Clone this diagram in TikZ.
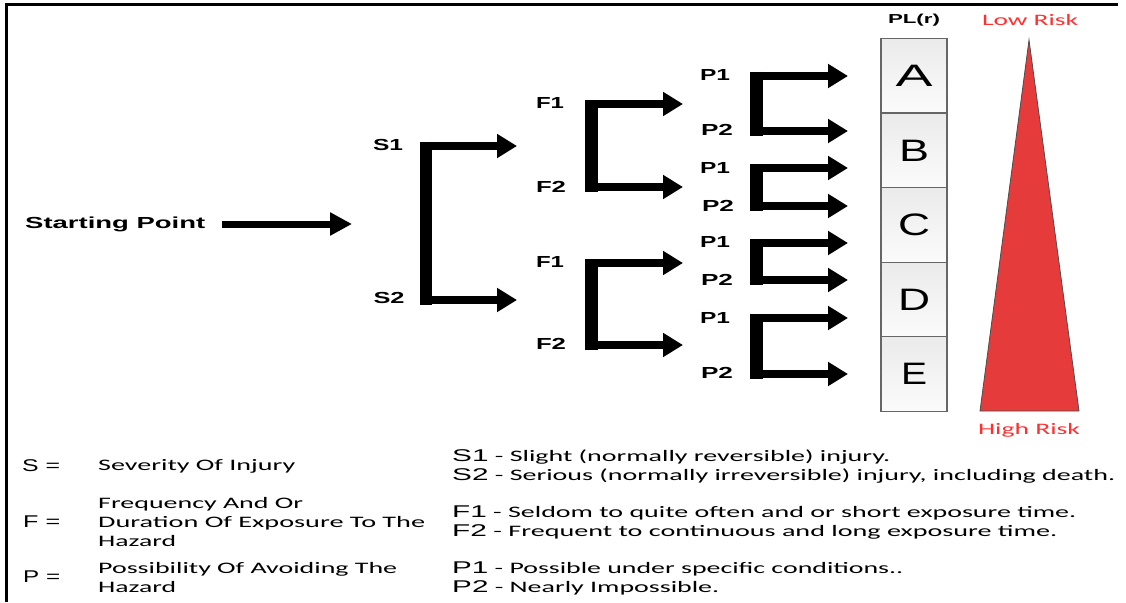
\documentclass[tikz,border=0pt]{standalone}
\usepackage{fontspec}
\setmainfont{Liberation Sans}
\newfontfamily\calfont{Carlito}
\usetikzlibrary{arrows.meta}
\newcommand\fitto[2]{\resizebox{#1pt}{\height}{#2}}
\definecolor{riskred}{RGB}{255,48,48}
\definecolor{trired}{RGB}{230,59,59}
\newcommand\brk[6]{%
  \coordinate (#1t) at (#2,#3); \coordinate (#1b) at (#2,#4);
  \coordinate (#1te) at (#5,#3); \coordinate (#1be) at (#5,#4);
  \draw[harr] (#1t) -- (#1te);
  \draw[harr] (#1b) -- (#1be);
  \draw[line width=#6pt] ([yshift=4.5pt]#1t) -- ([yshift=-4.5pt]#1b);
}
\begin{document}
\begin{tikzpicture}[x=1pt,y=-1pt,
  lbl/.style={font=\bfseries\fontsize{16}{16}\selectfont, inner sep=0pt},
  harr/.style={line width=8pt, -{Triangle[width=23pt,length=20pt]}},
  plbox/.style={draw=gray!80!black, line width=1.2pt, top color=gray!16, bottom color=gray!3,
     minimum width=66pt, minimum height=74.6pt, inner sep=0pt, font=\fontsize{31}{31}\selectfont},
  legl/.style={font=\fontsize{17}{17}\selectfont, inner sep=0pt, anchor=west},
  legt/.style={font=\calfont\fontsize{16}{16}\selectfont, inner sep=0pt, anchor=west},
  legr/.style={font=\calfont\fontsize{16}{16}\selectfont, inner sep=0pt, anchor=west},
  risk/.style={font=\calfont\fontsize{16}{16}\selectfont, text=riskred, inner sep=0pt}
]
\useasboundingbox (0,0) rectangle (1126,602);
\fill[white] (0,0) rectangle (1126,602);
\draw[line width=3pt] (6,602) -- (6,5) -- (1118,5);

% starting point
\node[lbl, anchor=west] (start) at (25,224) {\fitto{180}{Starting Point}};
\coordinate (startA) at (222,224);
\coordinate (startB) at (352,224);
\draw[line width=7pt, -{Triangle[width=22pt,length=22pt]}] (startA) -- (startB);

% S bracket
\node[lbl] (s1) at (388,145) {\fitto{30}{S1}};
\node[lbl] (s2) at (389,298) {\fitto{31}{S2}};
\brk{S}{426}{146}{300}{517}{12}

% F brackets
\node[lbl] (f1a) at (550,103) {\fitto{28}{F1}};
\node[lbl] (f2a) at (551,187) {\fitto{30}{F2}};
\node[lbl] (f1b) at (550,262) {\fitto{28}{F1}};
\node[lbl] (f2b) at (551,344) {\fitto{30}{F2}};
\brk{Fa}{591}{104}{187}{683}{13}
\brk{Fb}{591}{263}{345}{683}{13}

% P brackets
\node[lbl] (p1a) at (715,75) {\fitto{30}{P1}};
\node[lbl] (p2a) at (717,130) {\fitto{32}{P2}};
\node[lbl] (p1b) at (715,168) {\fitto{30}{P1}};
\node[lbl] (p2b) at (718,206) {\fitto{32}{P2}};
\node[lbl] (p1c) at (715,242) {\fitto{30}{P1}};
\node[lbl] (p2c) at (717,280) {\fitto{32}{P2}};
\node[lbl] (p1d) at (715,318) {\fitto{30}{P1}};
\node[lbl] (p2d) at (717,373) {\fitto{32}{P2}};
\brk{Pa}{756}{76}{131}{848}{13}
\brk{Pb}{756}{168}{206}{848}{13}
\brk{Pc}{756}{243}{280}{848}{13}
\brk{Pd}{756}{318}{374}{848}{13}

% PL(r) column
\node[font=\bfseries\fontsize{13}{13}\selectfont, inner sep=0pt] (pl) at (914,20) {\fitto{52}{PL(r)}};
\node[plbox] (A) at (914,75.5) {\fitto{37}{A}};
\node[plbox] (B) at (914,150.5) {\fitto{30}{B}};
\node[plbox] (C) at (914,225) {\fitto{32}{C}};
\node[plbox] (D) at (914,299.5) {\fitto{32}{D}};
\node[plbox] (E) at (914,374) {\fitto{26}{E}};

% risk triangle
\coordinate (apex) at (1029,40);
\coordinate (bR) at (1079,411);
\coordinate (bL) at (980,411);
\filldraw[fill=trired, draw=gray!60!black, line width=0.8pt] (apex) -- (bR) -- (bL) -- cycle;
\node[risk] (low) at (1030,20) {\fitto{96}{Low Risk}};
\node[risk] (high) at (1029,430) {\fitto{102}{High Risk}};

% legend left
\node[legl] (Seq) at (22,466) {\fitto{38}{S =}};
\node[legt] (Sdef) at (98,466) {\fitto{197}{Severity Of Injury}};
\node[legl] (Feq) at (23,522) {\fitto{37}{F =}};
\node[legt] (Fd1) at (98,504) {\fitto{205}{Frequency And Or}};
\node[legt] (Fd2) at (98,523) {\fitto{327}{Duration Of Exposure To The}};
\node[legt] (Fd3) at (98,541) {\fitto{78}{Hazard}};
\node[legl] (Peq) at (23,577) {\fitto{37}{P =}};
\node[legt] (Pd1) at (98,569) {\fitto{299}{Possibility Of Avoiding The}};
\node[legt] (Pd2) at (98,587) {\fitto{78}{Hazard}};

% legend right
\node[legr] (S1t) at (452,457) {\fitto{438}{{\rmfamily\fontsize{17}{17}\selectfont S1} - Slight (normally reversible) injury.}};
\node[legr] (S2t) at (452,476) {\fitto{663}{{\rmfamily\fontsize{17}{17}\selectfont S2} - Serious (normally irreversible) injury, including death.}};
\node[legr] (F1t) at (452,513) {\fitto{624}{{\rmfamily\fontsize{17}{17}\selectfont F1} - Seldom to quite often and or short exposure time.}};
\node[legr] (F2t) at (452,532) {\fitto{605}{{\rmfamily\fontsize{17}{17}\selectfont F2} - Frequent to continuous and long exposure time.}};
\node[legr] (P1t) at (452,569) {\fitto{451}{{\rmfamily\fontsize{17}{17}\selectfont P1} - Possible under specific conditions..}};
\node[legr] (P2t) at (452,588) {\fitto{267}{{\rmfamily\fontsize{17}{17}\selectfont P2} - Nearly Impossible.}};
\end{tikzpicture}
\end{document}
